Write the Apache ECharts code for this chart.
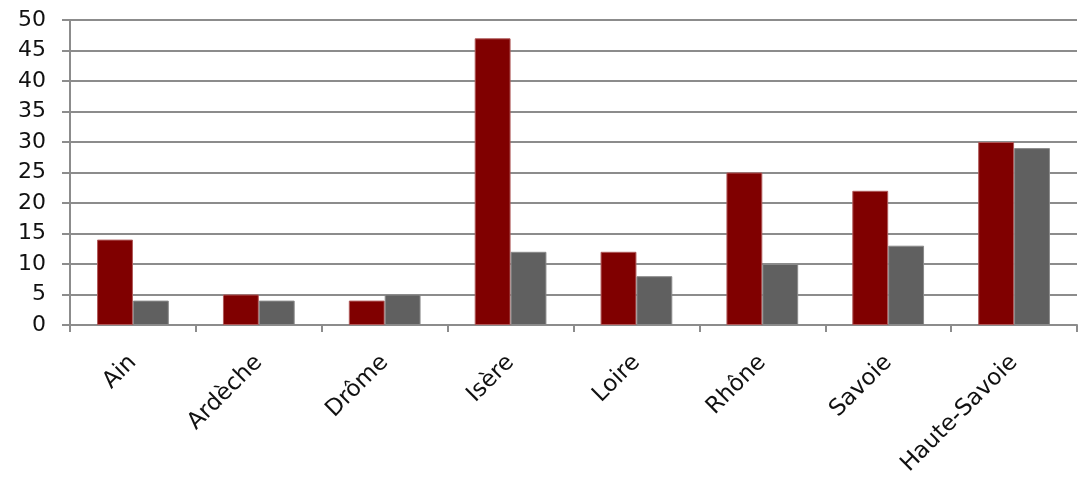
<!DOCTYPE html>
<html><head><meta charset="utf-8">
<script src="https://cdn.jsdelivr.net/npm/echarts@6/dist/echarts.min.js"></script>
<style>html,body{margin:0;padding:0;background:#fff}#c{width:1078px;height:490px}</style>
</head><body><div id="c"></div>
<script>
const categories = ["Ain","Ardèche","Drôme","Isère","Loire","Rhône","Savoie","Haute-Savoie"];
const seriesA = [14,5,4,47,12,25,22,30];
const seriesB = [4,4,5,12,8,10,13,29];
const yTicks = {min:0, max:50, interval:5};
const chart = echarts.init(document.getElementById('c'), null, {renderer:'canvas'});
const font = '"DejaVu Sans", sans-serif';
chart.setOption({
  animation:false,
  grid:{left:70,right:1,top:20,bottom:165,containLabel:false},
  xAxis:{type:'category',data:categories,
    axisLine:{lineStyle:{color:'#8c8c8c',width:2}},
    axisTick:{show:true,length:7,lineStyle:{color:'#8c8c8c',width:2}},
    axisLabel:{rotate:45,fontSize:23,color:'#111',fontFamily:font,margin:34}},
  yAxis:{type:'value',min:yTicks.min,max:yTicks.max,interval:yTicks.interval,
    axisLine:{show:true,lineStyle:{color:'#8c8c8c',width:2}},
    axisTick:{show:true,length:8,lineStyle:{color:'#8c8c8c',width:2}},
    splitLine:{lineStyle:{color:'#8c8c8c',width:2}},
    axisLabel:{fontSize:22,color:'#111',fontFamily:font,margin:24}},
  series:[
    {type:'bar',data:seriesA,barGap:'0%',barCategoryGap:'43%',
      itemStyle:{color:'#800000',borderColor:'#b05a5a',borderWidth:1}},
    {type:'bar',data:seriesB,
      itemStyle:{color:'#606060',borderColor:'#8a8a8a',borderWidth:1}}
  ]
});
</script></body></html>
